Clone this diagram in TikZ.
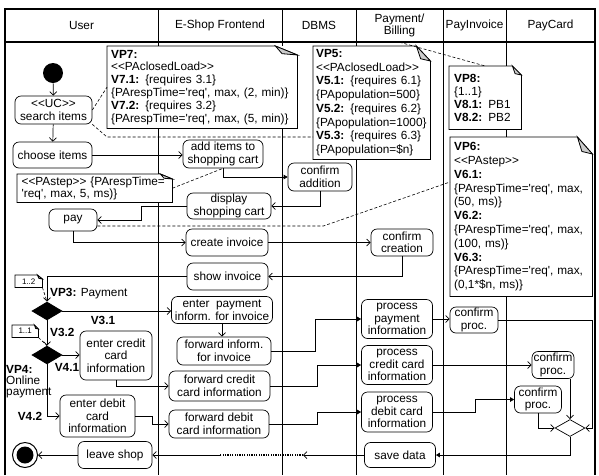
\documentclass[tikz,border=0pt]{standalone}
\usepackage{fontspec}
\newfontfamily\arialf{Liberation Sans}
\usetikzlibrary{arrows.meta,shapes.geometric,calc}
% font with a given baselineskip
\newcommand\nfnt[1]{\arialf\fontsize{11.8}{#1}\selectfont}
% note outline with a folded top-right corner: name, fold width, fold height
\newcommand\foldnote[3]{%
  \draw[notefr] (#1.north west) -- ([xshift=-#2]#1.north east) -- ([yshift=-#3]#1.north east)
    -- (#1.south east) -- (#1.south west) -- cycle;
  \filldraw[notefr, fill=gray!40] ([xshift=-#2]#1.north east)
    -- ([xshift=-0.7*#2, yshift=-0.85*#3]#1.north east) -- ([yshift=-#3]#1.north east) -- cycle;
}
\begin{document}
\begin{tikzpicture}[x=1pt,y=-1pt,
  font=\nfnt{12.5},
  every node/.style={inner sep=1pt},
  frame/.style={line width=1.2pt},
  lane/.style={line width=1pt},
  hdr/.style={minimum height=33pt, inner sep=0pt, align=center},
  act/.style={draw, rounded corners=6pt, fill=white, align=center, line width=0.7pt, inner sep=0pt},
  dec/.style={diamond, draw, fill=black, minimum width=30pt, minimum height=18pt, inner sep=0pt, line width=0.7pt},
  flow/.style={line width=0.7pt, -{Straight Barb[length=3.5pt,width=7pt]}},
  flowf/.style={line width=0.7pt, -{Triangle[length=4pt,width=4.5pt]}},
  link/.style={line width=0.6pt, dash pattern=on 3pt off 2pt},
  dotline/.style={line width=1.5pt, dash pattern=on 1.2pt off 1.2pt},
  note/.style={fill=white, anchor=north west, align=left, inner xsep=4pt, inner ysep=0pt},
  smallnote/.style={fill=white, anchor=north west, align=center, inner sep=0pt, font=\arialf\fontsize{8}{9}\selectfont},
  notefr/.style={line width=0.8pt},
  lbl/.style={inner sep=0pt}
]
\useasboundingbox (0,0) rectangle (599,475);

% swimlanes
\draw[frame] (5,475) -- (5,9) -- (595,9) -- (595,475);
\draw[frame] (5,42) -- (595,42);
\foreach \lx in {158,282,356,443,506} \draw[lane] (\lx,9) -- (\lx,475);
\node[hdr, minimum width=153pt] (huser) at (81.5,25.5) {User};
\node[hdr, minimum width=124pt] (hshop) at (220,25.5) {E-Shop Frontend};
\node[hdr, minimum width=74pt] (hdbms) at (319,25.5) {DBMS};
\node[hdr, minimum width=87pt, font=\nfnt{12}] (hpay) at (399.5,25.5) {Payment/\\Billing};
\node[hdr, minimum width=63pt] (hinv) at (474.5,25.5) {PayInvoice};
\node[hdr, minimum width=89pt] (hcard) at (550.5,25.5) {PayCard};

% notes
\node[note, text width=182pt, minimum height=82pt, font=\nfnt{12.8}] (vp7) at (107,46)
  {\textbf{VP7:}\\<<PAclosedLoad>>\\\textbf{V7.1:} \{requires 3.1\}\\\{PArespTime='req', max, (2, min)\}\\\textbf{V7.2:} \{requires 3.2\}\\\{PArespTime='req', max, (5, min)\}};
\foldnote{vp7}{22pt}{9pt}
\node[note, inner xsep=3pt, text width=111pt, minimum height=113pt, font=\nfnt{13.7}] (vp5) at (313,46)
  {\textbf{VP5:}\\<<PAclosedLoad>>\\\textbf{V5.1:} \{requires 6.1\}\\\{PApopulation=500\}\\\textbf{V5.2:} \{requires 6.2\}\\\{PApopulation=1000\}\\\textbf{V5.3:} \{requires 6.3\}\\\{PApopulation=\$n\}};
\foldnote{vp5}{14pt}{15pt}
\node[note, inner xsep=5pt, text width=62pt, minimum height=63pt, font=\nfnt{13}] (vp8) at (449,66)
  {\textbf{VP8:}\\\{1..1\}\\\textbf{V8.1:} PB1\\\textbf{V8.2:} PB2};
\foldnote{vp8}{9pt}{9pt}
\node[note, text width=134pt, minimum height=159pt, font=\nfnt{13.8}] (vp6) at (450,137)
  {\textbf{VP6:}\\<<PAstep>>\\\textbf{V6.1:}\\\{PArespTime='req', max,\\(50, ms)\}\\\textbf{V6.2:}\\\{PArespTime='req', max,\\(100, ms)\}\\\textbf{V6.3:}\\\{PArespTime='req', max,\\(0,1*\$n, ms)\}};
\foldnote{vp6}{15pt}{17pt}
\node[note, inner xsep=4.5pt, text width=146pt, minimum height=28pt, font=\nfnt{12.5}] (pastep) at (17,174)
  {<<PAstep>> \{PArespTime=\\'req', max, 5, ms)\}};
\foldnote{pastep}{12pt}{5pt}
\node[smallnote, minimum width=27pt, minimum height=12pt] (n12) at (15,275) {1..2};
\foldnote{n12}{5pt}{4pt}
\node[smallnote, minimum width=26pt, minimum height=12pt] (n11) at (12,325) {1..1};
\foldnote{n11}{4pt}{4pt}

% activities
\node[circle, fill=black, minimum size=20pt, inner sep=0pt] (start) at (53,73) {};
\node[act, minimum width=77pt, minimum height=28pt] (uc) at (53.5,110) {<<UC>>\\search items};
\node[act, minimum width=79pt, minimum height=26pt] (choose) at (52.5,155) {choose items};
\node[act, minimum width=80pt, minimum height=28pt] (addcart) at (223,154) {add items to\\shopping cart};
\node[act, minimum width=64pt, minimum height=28pt] (confadd) at (320,177) {confirm\\addition};
\node[act, minimum width=84pt, minimum height=26pt] (disp) at (229,206) {display\\shopping cart};
\node[act, minimum width=48pt, minimum height=22pt] (pay) at (73,220) {pay};
\node[act, minimum width=82pt, minimum height=27pt] (create) at (227,242.5) {create invoice};
\node[act, minimum width=62pt, minimum height=27pt] (confcre) at (402,242.5) {confirm\\creation};
\node[act, minimum width=81pt, minimum height=27pt] (show) at (227.5,276.5) {show invoice};
\node[dec] (vp3) at (47,311) {};
\node[act, minimum width=101pt, minimum height=27pt] (enterpay) at (222,310) {enter~ payment\\inform. for invoice};
\node[act, minimum width=94pt, minimum height=28pt] (fwdinv) at (224,351) {forward inform.\\for invoice};
\node[act, minimum width=71pt, minimum height=39pt] (procpay) at (397,319) {process\\payment\\information};
\node[act, minimum width=48pt, minimum height=26pt] (confp1) at (474,320) {confirm\\proc.};
\node[dec] (vp4) at (47,355) {};
\node[act, minimum width=72pt, minimum height=49pt] (entcc) at (116,355.5) {enter credit\\card\\information};
\node[act, minimum width=75pt, minimum height=42pt] (entdc) at (97.5,416) {enter debit\\card\\information};
\node[act, minimum width=101pt, minimum height=30pt] (fwdcc) at (219.5,386) {forward credit\\card information};
\node[act, minimum width=100pt, minimum height=28pt] (fwddc) at (219,424) {forward debit\\card information};
\node[act, minimum width=71pt, minimum height=39pt] (proccc) at (397,365) {process\\credit card\\information};
\node[act, minimum width=71pt, minimum height=40pt] (procdc) at (397,412) {process\\debit card\\information};
\node[act, minimum width=42pt, minimum height=27pt] (confp2) at (553,365) {confirm\\proc.};
\node[act, minimum width=47pt, minimum height=27pt] (confp3) at (538,399.5) {confirm\\proc.};
\node[dec, fill=white, minimum height=17pt] (merge) at (570,428) {};
\node[act, minimum width=71pt, minimum height=25pt] (save) at (400,455) {save data};
\node[act, minimum width=74pt, minimum height=27pt] (leave) at (115,455) {leave shop};
\node[circle, draw, line width=1pt, minimum size=25pt, inner sep=0pt] (endo) at (25,455) {};
\node[circle, fill=black, minimum size=17pt, inner sep=0pt] (endi) at (25,455) {};

% variation point labels
\node[lbl, anchor=west] (lvp3) at (50,294) {\textbf{VP3:} Payment};
\node[lbl] (lv31) at (103,320) {\textbf{V3.1}};
\node[lbl, anchor=west] (lv32) at (50,332) {\textbf{V3.2}};
\node[lbl] (lv41) at (67,367) {\textbf{V4.1}};
\node[lbl] (lv42) at (30,416) {\textbf{V4.2}};
\node[lbl, anchor=north west, align=left, font=\nfnt{11}] (lvp4) at (6,365) {\textbf{VP4:}\\Online\\payment};

% control flow
\draw[flow] (start) -- (uc);
\draw[flow] (uc) -- (choose);
\draw[flow] (choose.east) -- (choose.east -| addcart.west);
\draw[flowf] (addcart.south) |- (confadd.west);
\draw[flow] (confadd.south) |- (disp.east);
\draw[flow] (disp.west) -- ++(-45,0) |- (pay.east);
\draw[flow] (pay.south) |- (create.west);
\draw[flow] (create.east) -- (confcre.west);
\draw[flow] (confcre.south) |- (show.east);
\draw[flow] (show.west) -| (vp3.north);
\draw[flow] (vp3.east) -- (vp3.east -| enterpay.west);
\draw[flow] (vp3.south) -- (vp4.north);
\draw[flow] (enterpay.south) -- (enterpay.south |- fwdinv.north);
\draw[flowf] (fwdinv.east) -- ++(44,0) |- (procpay.west);
\draw[flow] (procpay.east) -- (procpay.east -| confp1.west);
\draw[flow] (confp1.east) -- ++(94,0) |- (merge.east);
\draw[flow] (vp4.east) -- (vp4.east -| entcc.west);
\draw[flow] (vp4.south) |- (entdc.west);
\draw[flow] (entcc.south) |- (fwdcc.west);
\draw[flow] (entdc.east) -- ++(17,0) |- (fwddc.west);
\draw[flowf] (fwdcc.east) -- ++(47,0) |- (proccc.west);
\draw[flowf] (fwddc.east) -- ++(48,0) |- (procdc.west);
\draw[flow] (proccc.east) -- (proccc.east -| confp2.west);
\draw[flowf] (procdc.east) -- ++(42,0) |- (confp3.west);
\draw[flow] (merge.north |- confp2.south) -- (merge.north);
\draw[flow] (confp3.south) |- (merge.west);
\draw[flowf] (merge.south) |- (save.east);
\coordinate (gapR) at (303,455);
\coordinate (gapL) at (220,455);
\draw[flow] (save.west) -- (gapR);
\draw[dotline] (gapR) -- (gapL);
\draw[flow] (gapL) -- (leave.east);
\draw[flow] (leave.west) -- (endo);

% note anchors
\coordinate (k1) at (107,137);
\draw[link] (uc.east) -- (vp7.west);
\draw[link] (uc.south east) -- (k1) -- (k1 -| vp5.west);
\draw[link] (pastep.east) -- (addcart.south);
\draw[link] ([yshift=-6pt]pay.east) -- ++(226,0) -- ([yshift=-45pt]vp6.north west);
\draw[link] (hpay.south) -- (vp8.north);
\draw[link] (n12.south east) -- (vp3.north);
\draw[link] (n11.south east) -- (vp4.north);
\end{tikzpicture}
\end{document}
